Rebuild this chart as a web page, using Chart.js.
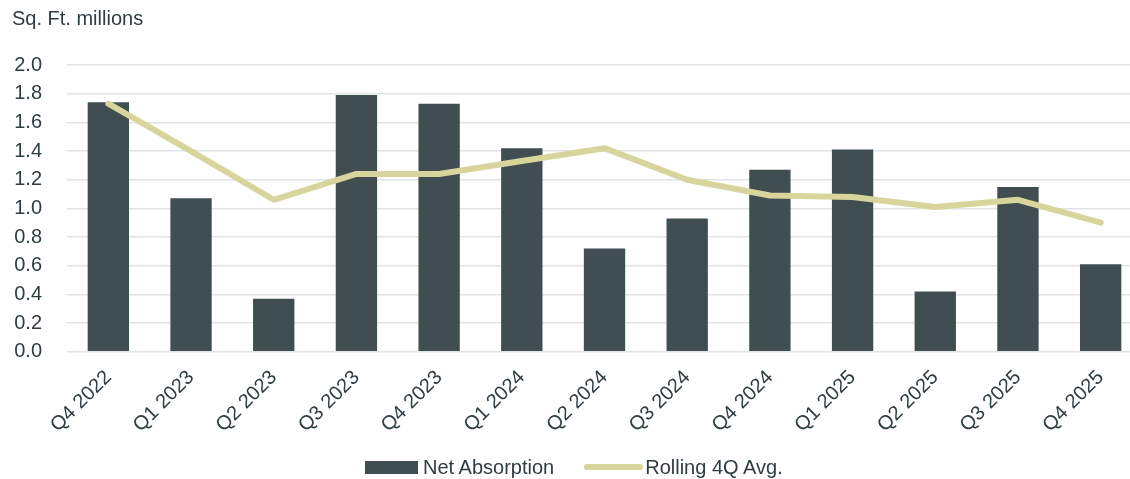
<!DOCTYPE html>
<html>
<head>
<meta charset="utf-8">
<script src="https://cdn.jsdelivr.net/npm/chart.js@4/dist/chart.umd.min.js"></script>
<style>
  html, body { margin: 0; padding: 0; background: #fff; overflow: hidden; }
  #wrap { position: relative; width: 1130px; height: 479px; overflow: hidden; }
  #box { position: absolute; left: 0; top: 0; width: 1150px; height: 479px; }
  #legend {
    position: absolute; left: 365px; top: 455px; height: 24px;
    display: flex; align-items: center;
    font: 20px "Liberation Sans", Arial, sans-serif; color: #2f3c41;
  }
  #legend .item { display: flex; align-items: center; }
  #legend .bar { width: 53px; height: 13px; margin-right: 5px; }
  #legend .line { width: 59px; height: 6px; border-radius: 3px; margin-right: 2px; }
  #legend .gap { width: 30px; }
</style>
</head>
<body>
<div id="wrap">
  <div id="box"><canvas id="chart"></canvas></div>
  <div id="legend"></div>
</div>
<script>
const quarters = ['Q4 2022', 'Q1 2023', 'Q2 2023', 'Q3 2023', 'Q4 2023', 'Q1 2024', 'Q2 2024',
                  'Q3 2024', 'Q4 2024', 'Q1 2025', 'Q2 2025', 'Q3 2025', 'Q4 2025'];
const netAbsorption = [1.74, 1.07, 0.37, 1.79, 1.73, 1.42, 0.72, 0.93, 1.27, 1.41, 0.42, 1.15, 0.61];
const rolling4Q     = [1.73, 1.40, 1.06, 1.24, 1.24, 1.33, 1.42, 1.20, 1.09, 1.08, 1.01, 1.06, 0.90];
const yTicks = [0, 0.2, 0.4, 0.6, 0.8, 1.0, 1.2, 1.4, 1.6, 1.8, 2.0];

const barColor = '#414e51';
const lineColor = '#d8d59c';
const textColor = '#2f3c41';
const font = { family: '"Liberation Sans", Arial, sans-serif', size: 20 };

Chart.defaults.font.family = font.family;
Chart.defaults.color = textColor;

const chart = new Chart(document.getElementById('chart'), {
  type: 'bar',
  data: {
    labels: quarters,
    datasets: [
      {
        label: 'Net Absorption',
        data: netAbsorption,
        backgroundColor: barColor,
        categoryPercentage: 0.5,
        barPercentage: 1,
        order: 1
      },
      {
        type: 'line',
        label: 'Rolling 4Q Avg.',
        data: rolling4Q,
        borderColor: lineColor,
        backgroundColor: lineColor,
        borderWidth: 6,
        borderCapStyle: 'round',
        borderJoinStyle: 'round',
        pointRadius: 0,
        tension: 0,
        order: 0
      }
    ]
  },
  options: {
    responsive: true,
    maintainAspectRatio: false,
    animation: false,
    layout: { padding: { left: 12, right: 8, top: 0, bottom: 36 } },
    plugins: {
      legend: { display: false },
      tooltip: { enabled: false },
      title: {
        display: true,
        text: 'Sq. Ft. millions',
        align: 'start',
        color: textColor,
        font: { size: 20, weight: 'normal' },
        padding: { top: 7, bottom: 34 }
      }
    },
    scales: {
      x: {
        border: { display: false },
        grid: { display: false },
        // rotated labels may hang past the left edge, that's fine
        afterFit: (axis) => { axis.paddingLeft = 0; axis.paddingRight = 0; },
        ticks: {
          autoSkip: false,
          maxRotation: 45,
          minRotation: 45,
          padding: 6,
          color: textColor,
          font: { size: 20 }
        }
      },
      y: {
        min: 0,
        max: 2,
        border: { display: false },
        grid: { color: '#e0e4e4', lineWidth: 1.5, drawTicks: false },
        afterBuildTicks: (axis) => { axis.ticks = yTicks.map(v => ({ value: v })); },
        afterFit: (axis) => { axis.width = 55; },
        ticks: {
          padding: 25,
          color: textColor,
          font: { size: 20 },
          callback: (v) => Number(v).toFixed(1)
        }
      }
    }
  }
});

// legend below the plot, built from the dataset labels
const legend = document.getElementById('legend');
chart.data.datasets.forEach((ds, i) => {
  if (i > 0) {
    const gap = document.createElement('span');
    gap.className = 'gap';
    legend.appendChild(gap);
  }
  const item = document.createElement('span');
  item.className = 'item';
  const sw = document.createElement('span');
  sw.className = ds.type === 'line' ? 'line' : 'bar';
  sw.style.background = ds.type === 'line' ? ds.borderColor : ds.backgroundColor;
  item.appendChild(sw);
  item.appendChild(document.createTextNode(ds.label));
  legend.appendChild(item);
});
</script>
</body>
</html>
